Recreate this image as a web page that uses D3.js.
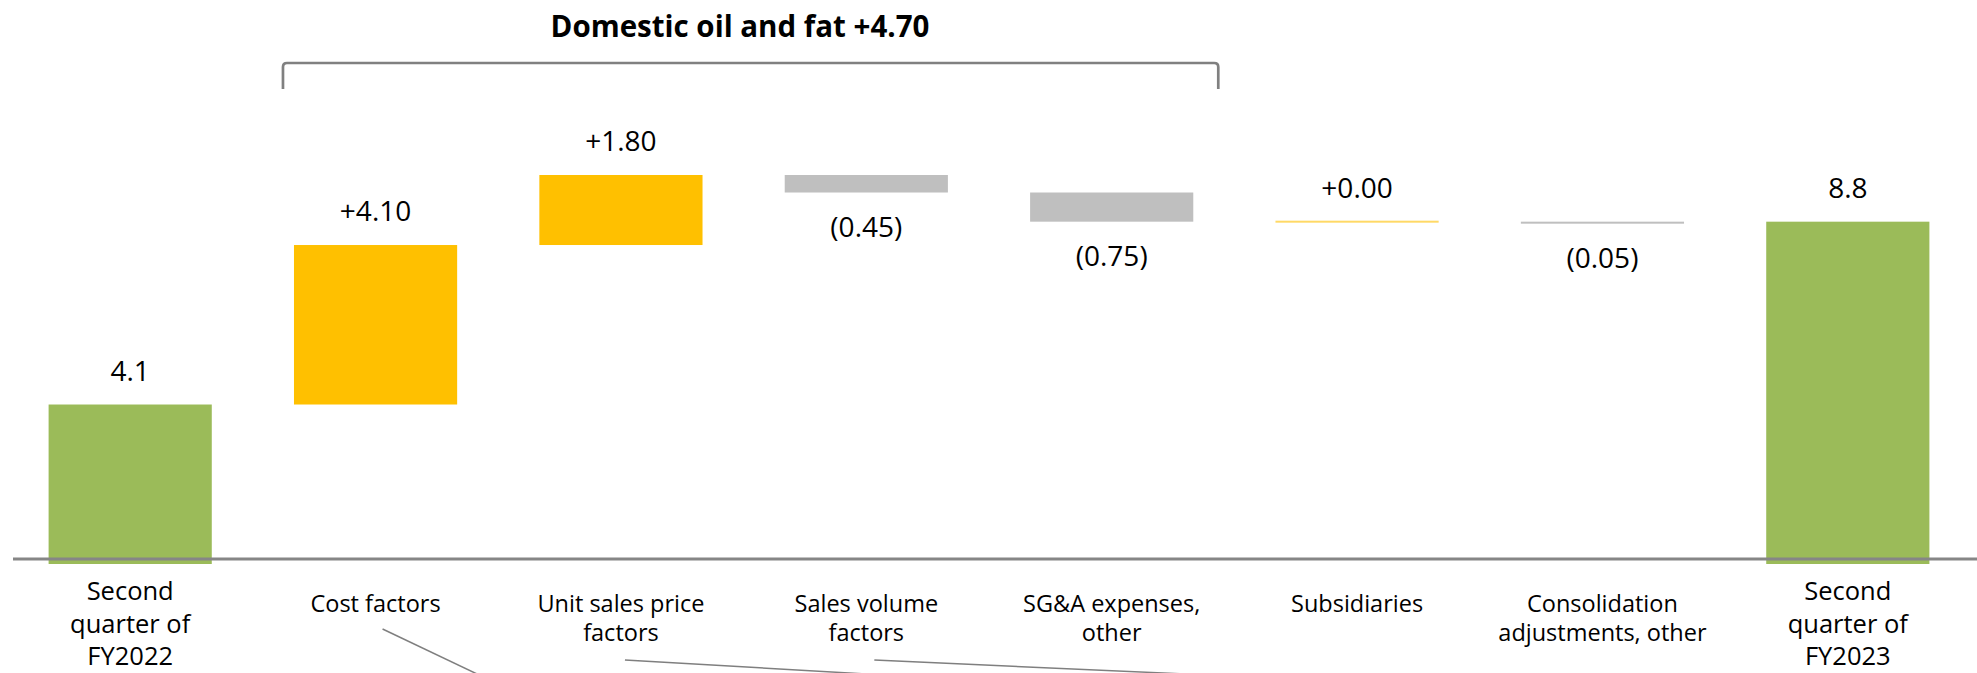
<!DOCTYPE html>
<html>
<head>
<meta charset="utf-8">
<script src="https://cdn.jsdelivr.net/npm/d3@7"></script>
<style>
  html, body { margin: 0; padding: 0; background: #fff; }
  svg { display: block; }
  text { font-family: "Open Sans", "Noto Sans", sans-serif; fill: #000; }
</style>
</head>
<body>
<svg id="chart" width="1977" height="673"></svg>
<script>
// ---- data ----
const categories = [
  "Second quarter of FY2022", "Cost factors", "Unit sales price factors",
  "Sales volume factors", "SG&A expenses, other", "Subsidiaries",
  "Consolidation adjustments, other", "Second quarter of FY2023"
];
const categoryLines = [
  ["Second", "quarter of", "FY2022"],
  ["Cost factors"],
  ["Unit sales price", "factors"],
  ["Sales volume", "factors"],
  ["SG&A expenses,", "other"],
  ["Subsidiaries"],
  ["Consolidation", "adjustments, other"],
  ["Second", "quarter of", "FY2023"]
];
const values = [4.1, 4.10, 1.80, -0.45, -0.75, 0.00, -0.05, 8.8];
const kinds = ["total", "delta", "delta", "delta", "delta", "delta", "delta", "total"];
const valueLabels = ["4.1", "+4.10", "+1.80", "(0.45)", "(0.75)", "+0.00", "(0.05)", "8.8"];
const groupTitle = "Domestic oil and fat +4.70";
const groupFrom = "Cost factors";
const groupTo = "SG&A expenses, other";
const pointerFrom = ["Cost factors", "Unit sales price factors", "Sales volume factors"];

// ---- build waterfall ----
let running = 0;
const rows = categories.map((c, i) => {
  let y0, y1;
  if (kinds[i] === "total") { y0 = 0; y1 = values[i]; running = values[i]; }
  else { y0 = running; y1 = running + values[i]; running = y1; }
  return { cat: c, lines: categoryLines[i], v: values[i], kind: kinds[i], label: valueLabels[i],
           lo: Math.min(y0, y1), hi: Math.max(y0, y1) };
});

const svg = d3.select("#chart");
const x = d3.scaleBand().domain(categories).range([7.5, 1970.5]).paddingInner(0.335).paddingOuter(0.1675);
const y = d3.scaleLinear().domain([0, 10]).range([564, 175]);

function color(d) {
  if (d.kind === "total") return "#9BBB59";
  if (d.v > 0) return "#FFC000";
  if (d.v === 0) return "#FFD966";
  return "#BFBFBF";
}

// bars
svg.append("g").selectAll("rect").data(rows).join("rect")
  .attr("x", d => x(d.cat))
  .attr("width", x.bandwidth())
  .attr("y", d => d.v === 0 ? y(d.hi) - 1 : y(d.hi))
  .attr("height", d => Math.max(2, y(d.lo) - y(d.hi)))
  .attr("fill", color);

// axis baseline
svg.append("line")
  .attr("x1", 13).attr("x2", 1977)
  .attr("y1", y(0) - 5).attr("y2", y(0) - 5)
  .attr("stroke", "#868686").attr("stroke-width", 3);

// value labels
svg.append("g").selectAll("text").data(rows).join("text")
  .attr("x", d => x(d.cat) + x.bandwidth() / 2)
  .attr("y", d => d.v < 0 ? y(d.lo) + 44 : y(d.hi) - 24)
  .attr("text-anchor", "middle")
  .style("font-size", "28px")
  .text(d => d.label);

// category labels
const catG = svg.append("g").selectAll("text").data(rows).join("text")
  .attr("text-anchor", "middle")
  .style("font-size", d => d.kind === "total" ? "25.5px" : "23.5px");
catG.each(function(d) {
  const t = d3.select(this);
  const big = d.kind === "total";
  const startY = big ? 600 : 611.5;
  const lh = big ? 32.5 : 29.5;
  d.lines.forEach((ln, k) => {
    t.append("tspan")
      .attr("x", x(d.cat) + x.bandwidth() / 2)
      .attr("y", startY + k * lh)
      .text(ln);
  });
});

// group bracket
const bx0 = x(groupFrom) - 11;
const bx1 = x(groupTo) + x.bandwidth() + 25;
const bTop = 63, bBot = 89, r = 4;
svg.append("path")
  .attr("d", `M${bx0},${bBot} L${bx0},${bTop + r} Q${bx0},${bTop} ${bx0 + r},${bTop} L${bx1 - r},${bTop} Q${bx1},${bTop} ${bx1},${bTop + r} L${bx1},${bBot}`)
  .attr("fill", "none").attr("stroke", "#808080").attr("stroke-width", 2.7);

svg.append("text")
  .attr("x", 740).attr("y", 37)
  .attr("text-anchor", "middle")
  .style("font-size", "29.5px").style("font-weight", "bold")
  .text(groupTitle);

// pointer lines going below the chart
const pointerSpec = [
  { dx: 7, y0: 629, slope: 0.476 },
  { dx: 4, y0: 660, slope: 0.058 },
  { dx: 8, y0: 660, slope: 0.045 }
];
pointerFrom.forEach((c, i) => {
  const p = pointerSpec[i];
  const sx = x(c) + x.bandwidth() / 2 + p.dx;
  const ex = sx + (700 - p.y0) / p.slope;
  svg.append("line")
    .attr("x1", sx).attr("y1", p.y0)
    .attr("x2", ex).attr("y2", 700)
    .attr("stroke", "#7f7f7f").attr("stroke-width", 1.5);
});
</script>
</body>
</html>
